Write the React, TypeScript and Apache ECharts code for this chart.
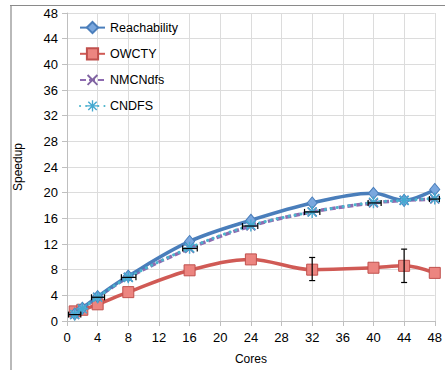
import React, { useEffect, useRef } from "react";
import * as echarts from "echarts";

const cores = [1, 2, 4, 8, 16, 24, 32, 40, 44, 48];
const reachability = [1.1, 2.0, 3.8, 7.0, 12.4, 15.7, 18.4, 19.9, 18.8, 20.5];
const owcty = [1.5, 1.75, 2.6, 4.5, 7.9, 9.6, 8.0, 8.3, 8.6, 7.5];
const nmcndfs = [1.0, 1.9, 3.7, 6.8, 11.3, 14.8, 17.0, 18.4, 18.8, 19.0];
const cndfs = [1.0, 1.9, 3.7, 6.8, 11.4, 14.9, 17.0, 18.5, 18.8, 19.1];

// vertical error bars for OWCTY: [x, low, high]
const owctyErr = [
  [32, 6.3, 9.9],
  [44, 6.0, 11.2],
];
// horizontal error bars for NMCNdfs: [y, xLow, xHigh]
const nmcErr = [
  [1.0, 0.2, 1.8],
  [3.7, 3.2, 4.9],
  [6.8, 7.1, 9.0],
  [11.3, 15.1, 17.0],
  [14.8, 22.9, 24.9],
  [17.0, 31.0, 33.0],
  [18.4, 39.3, 41.0],
  [19.0, 47.3, 48.6],
];

const xTicks = { min: 0, max: 48, interval: 4 };
const yTicks = { min: 0, max: 48, interval: 4 };

const X_SYMBOL =
  "path://M1.2,0L5,3.8L8.8,0L10,1.2L6.2,5L10,8.8L8.8,10L5,6.2L1.2,10L0,8.8L3.8,5L0,1.2Z";
const STAR_SYMBOL =
  "path://M4.4,0h1.2v10h-1.2z M0,4.4h10v1.2h-10z M0.8,1.7L1.7,0.8L9.2,8.3L8.3,9.2Z M8.3,0.8L9.2,1.7L1.7,9.2L0.8,8.3Z";

function pair(xs: number[], ys: number[]) {
  return xs.map((x, i) => [x, ys[i]]);
}

export default function App() {
  const ref = useRef<HTMLDivElement>(null);
  useEffect(() => {
    if (!ref.current) return;
    const chart = echarts.init(ref.current, null, { renderer: "svg" });
    const font = "Liberation Sans";
    chart.setOption({
      animation: false,
      backgroundColor: "#ffffff",
      textStyle: { fontFamily: font },
      graphic: [
        { type: "line", shape: { x1: 10, y1: 5.5, x2: 445, y2: 5.5 }, style: { stroke: "#8a8a8a", lineWidth: 1.2 } },
        { type: "line", shape: { x1: 11, y1: 5, x2: 11, y2: 370 }, style: { stroke: "#8a8a8a", lineWidth: 1.2 } },
      ],
      grid: { left: 67, right: 8, top: 13, bottom: 46, containLabel: false },
      legend: {
        data: ["Reachability", "OWCTY", "NMCNdfs", "CNDFS"],
        orient: "vertical",
        left: 79,
        top: 21,
        padding: 0,
        itemWidth: 25,
        itemHeight: 14,
        itemGap: 13,
        textStyle: { fontFamily: font, fontSize: 12.5, color: "#000" },
      },
      xAxis: {
        type: "value",
        min: xTicks.min,
        max: xTicks.max,
        interval: xTicks.interval,
        name: "Cores",
        nameLocation: "middle",
        nameGap: 32,
        nameTextStyle: { fontFamily: font, fontSize: 12, color: "#000" },
        axisLine: { lineStyle: { color: "#bfbfbf", width: 1 } },
        axisTick: { show: true, length: 5, lineStyle: { color: "#bfbfbf" } },
        axisLabel: { fontFamily: font, fontSize: 13, color: "#000", margin: 10 },
        splitLine: { show: true, lineStyle: { color: "#dcdcdc", width: 1 } },
      },
      yAxis: {
        type: "value",
        min: yTicks.min,
        max: yTicks.max,
        interval: yTicks.interval,
        name: "Speedup",
        nameLocation: "middle",
        nameGap: 43,
        nameTextStyle: { fontFamily: font, fontSize: 12, color: "#000" },
        axisLine: { show: true, lineStyle: { color: "#bfbfbf", width: 1 } },
        axisTick: { show: true, length: 5, lineStyle: { color: "#bfbfbf" } },
        axisLabel: { fontFamily: font, fontSize: 13, color: "#000", margin: 9 },
        splitLine: { show: true, lineStyle: { color: "#dcdcdc", width: 1 } },
      },
      series: [
        {
          name: "Reachability",
          type: "line",
          data: pair(cores, reachability),
          smooth: 0.35,
          lineStyle: { color: "#4a7ebb", width: 3.5 },
          itemStyle: { color: "#7aa7de", borderColor: "#4a7ebb", borderWidth: 1 },
          symbol: "diamond",
          symbolSize: [10, 12],
          z: 4,
        },
        {
          name: "OWCTY",
          type: "line",
          data: pair(cores, owcty),
          smooth: 0.35,
          lineStyle: { color: "#d05a55", width: 3.5 },
          itemStyle: { color: "#ec8580", borderColor: "#c0504d", borderWidth: 1 },
          symbol: "rect",
          symbolSize: 11,
          z: 3,
        },
        {
          name: "NMCNdfs",
          type: "line",
          data: pair(cores, nmcndfs),
          smooth: 0.35,
          lineStyle: { color: "#8e6bb0", width: 3.5, type: [6, 3] },
          itemStyle: { color: "#8064a2" },
          symbol: X_SYMBOL,
          symbolSize: 10,
          z: 2,
        },
        {
          name: "CNDFS",
          type: "line",
          data: pair(cores, cndfs),
          smooth: 0.35,
          lineStyle: { color: "#4bb4cc", width: 3, type: [0.1, 6], cap: "round" },
          itemStyle: { color: "#45a9d0" },
          symbol: STAR_SYMBOL,
          symbolSize: 12,
          z: 5,
        },
        {
          type: "custom",
          name: "owctyErr",
          data: owctyErr,
          encode: { x: 0, y: [1, 2] },
          z: 6,
          renderItem: (params: any, api: any) => {
            const x = api.value(0);
            const p1 = api.coord([x, api.value(1)]);
            const p2 = api.coord([x, api.value(2)]);
            const st = { stroke: "#000", lineWidth: 1.2 };
            return {
              type: "group",
              children: [
                { type: "line", shape: { x1: p1[0], y1: p1[1], x2: p2[0], y2: p2[1] }, style: st },
                { type: "line", shape: { x1: p1[0] - 3, y1: p1[1], x2: p1[0] + 3, y2: p1[1] }, style: st },
                { type: "line", shape: { x1: p2[0] - 3, y1: p2[1], x2: p2[0] + 3, y2: p2[1] }, style: st },
              ],
            };
          },
        },
        {
          type: "custom",
          name: "nmcErr",
          data: nmcErr,
          encode: { y: 0, x: [1, 2] },
          z: 6,
          renderItem: (params: any, api: any) => {
            const y = api.value(0);
            const p1 = api.coord([api.value(1), y]);
            const p2 = api.coord([api.value(2), y]);
            const st = { stroke: "#000", lineWidth: 1.2 };
            return {
              type: "group",
              children: [
                { type: "line", shape: { x1: p1[0], y1: p1[1], x2: p2[0], y2: p2[1] }, style: st },
                { type: "line", shape: { x1: p1[0], y1: p1[1] - 3, x2: p1[0], y2: p1[1] + 3 }, style: st },
                { type: "line", shape: { x1: p2[0], y1: p2[1] - 3, x2: p2[0], y2: p2[1] + 3 }, style: st },
              ],
            };
          },
        },
      ],
    });
    return () => chart.dispose();
  }, []);
  return (
    <div
      ref={ref}
      style={{ position: "absolute", left: 0, top: 0, width: 445, height: 370 }}
    />
  );
}
